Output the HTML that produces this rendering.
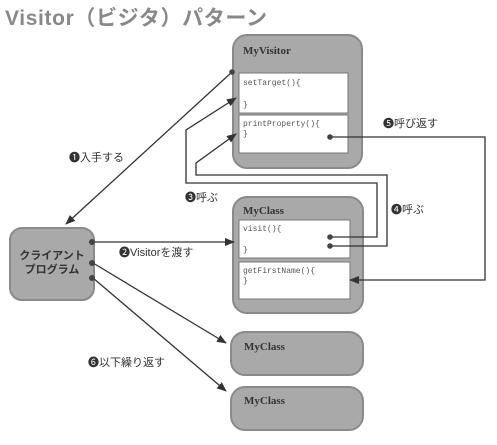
<!DOCTYPE html>
<html><head><meta charset="utf-8"><style>
body{margin:0;background:#fff;}
svg{display:block;}
text{font-family:"Liberation Sans","Noto Sans CJK JP",sans-serif;}
.m{font-family:"Liberation Mono",monospace;font-size:8px;fill:#555;}
.h{font-family:"Liberation Serif","Noto Serif CJK SC",serif;font-weight:bold;font-size:11px;fill:#333;}
.l{font-size:11px;fill:#333;}
</style></head><body>
<svg width="497" height="445" viewBox="0 0 497 445" xmlns="http://www.w3.org/2000/svg">
<defs>
<marker id="a" markerWidth="10" markerHeight="8" refX="9" refY="4" orient="auto" markerUnits="userSpaceOnUse"><path d="M0,0 L10,4 L0,8 z" fill="#333"/></marker>
</defs>
<text x="5" y="25" font-size="21" font-weight="bold" fill="#888" textLength="262">Visitor（ビジタ）パターン</text>
<rect x="233" y="35" width="129" height="133" rx="14" fill="#a9a9a9" stroke="#8a8a8a" stroke-width="2"/>
<text x="243" y="54" class="h">MyVisitor</text>
<rect x="239" y="73" width="109" height="40" fill="#fff" stroke="#777"/>
<text x="243" y="85" class="m">setTarget(){</text><text x="243" y="107" class="m">}</text>
<rect x="239" y="115" width="109" height="38" fill="#fff" stroke="#777"/>
<text x="243" y="126" class="m">printProperty(){</text><text x="243" y="136" class="m">}</text>

<rect x="233" y="197" width="130" height="116" rx="14" fill="#a9a9a9" stroke="#8a8a8a" stroke-width="2"/>
<text x="243" y="214" class="h">MyClass</text>
<rect x="239" y="220" width="111" height="38" fill="#fff" stroke="#777"/>
<text x="243" y="231" class="m">visit(){</text><text x="243" y="252" class="m">}</text>
<rect x="239" y="262" width="111" height="37" fill="#fff" stroke="#777"/>
<text x="243" y="273" class="m">getFirstName(){</text><text x="243" y="283" class="m">}</text>

<rect x="231" y="332" width="132" height="43" rx="14" fill="#a9a9a9" stroke="#8a8a8a" stroke-width="2"/>
<text x="244" y="350" class="h">MyClass</text>
<rect x="231" y="387" width="132" height="43" rx="14" fill="#a9a9a9" stroke="#8a8a8a" stroke-width="2"/>
<text x="244" y="404" class="h">MyClass</text>

<rect x="10" y="228" width="84" height="72" rx="12" fill="#a9a9a9" stroke="#8a8a8a" stroke-width="2"/>
<text x="52" y="259" text-anchor="middle" font-size="11" font-weight="bold" fill="#333">クライアント</text>
<text x="52" y="273" text-anchor="middle" font-size="11" font-weight="bold" fill="#333">プログラム</text>

<g stroke="#333" stroke-width="1.3" fill="none">
<line x1="232" y1="72" x2="66" y2="224" marker-end="url(#a)"/>
<line x1="93" y1="242" x2="234" y2="242" marker-end="url(#a)"/>
<line x1="93" y1="263" x2="226" y2="343" marker-end="url(#a)"/>
<line x1="93" y1="278" x2="226" y2="391" marker-end="url(#a)"/>
<polyline points="330,237 377,237 377,183 186,183 186,130 236,98" marker-end="url(#a)"/>
<polyline points="330,246 387,246 387,175 196,175 196,163 236,134" marker-end="url(#a)"/>
<polyline points="330,137 485,137 485,280 350,280" marker-end="url(#a)"/>
</g>
<g fill="#444">
<circle cx="232" cy="72" r="2.8"/><circle cx="92" cy="242" r="3"/><circle cx="92" cy="263" r="3"/><circle cx="92" cy="278" r="3"/>
<circle cx="330" cy="237" r="2.8"/><circle cx="330" cy="246" r="2.8"/><circle cx="330" cy="137" r="2.8"/>
</g>
<text x="69" y="161" class="l">❶入手する</text>
<text x="119" y="256" class="l">❷Visitorを渡す</text>
<text x="185" y="201" class="l">❸呼ぶ</text>
<text x="391" y="213" class="l">❹呼ぶ</text>
<text x="383" y="127" class="l">❺呼び返す</text>
<text x="88" y="366" class="l">❻以下繰り返す</text>
</svg>
</body></html>
